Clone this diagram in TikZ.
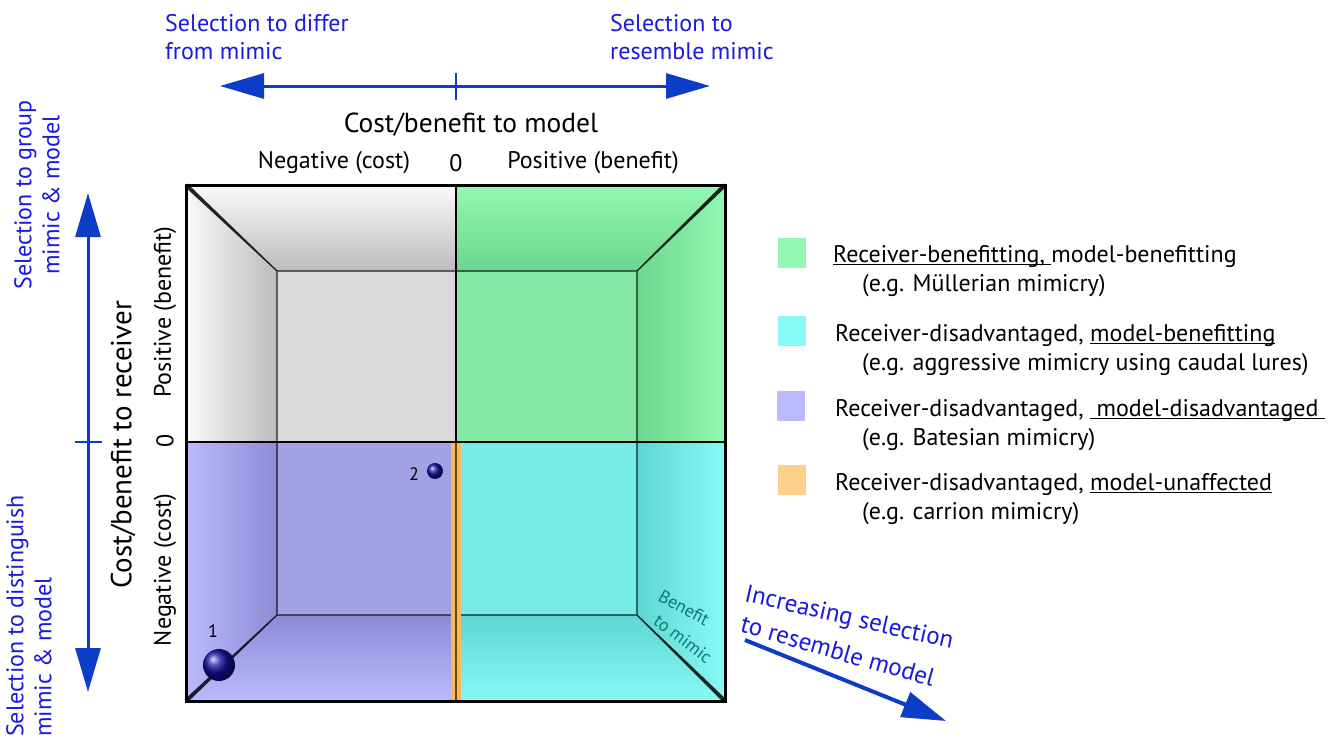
\documentclass[tikz,border=0pt]{standalone}
\usepackage{fontspec}
\setmainfont{PT Sans}
\usetikzlibrary{arrows.meta,calc}
\definecolor{selblue}{RGB}{25,25,225}
\definecolor{arrblue}{RGB}{12,60,200}
\definecolor{ballblue}{RGB}{25,15,160}
\definecolor{tealtxt}{RGB}{20,120,118}
\definecolor{gL}{RGB}{250,250,250}\definecolor{gD}{RGB}{188,188,190}\definecolor{gB}{RGB}{217,217,217}
\definecolor{nL}{RGB}{147,248,179}\definecolor{nD}{RGB}{108,214,142}\definecolor{nB}{RGB}{134,232,165}
\definecolor{pL}{RGB}{188,186,252}\definecolor{pD}{RGB}{142,138,214}\definecolor{pB}{RGB}{164,160,228}
\definecolor{cL}{RGB}{136,250,246}\definecolor{cD}{RGB}{94,214,211}\definecolor{cB}{RGB}{119,235,230}
\definecolor{oL}{RGB}{253,208,140}\definecolor{oS}{RGB}{245,185,100}\definecolor{oD}{RGB}{110,70,0}
\newcommand\myul[1]{\setbox0\hbox{#1}\rlap{\rule[-3pt]{\wd0}{0.9pt}}\box0}
\newcommand\drawroom[3]{%
  \fill[#3] (iTL) rectangle (iBR);
  \shade[top color=#1, bottom color=#2] (oTL) -- (oTR) -- (iTR) -- (iTL) -- cycle;
  \shade[top color=#2, bottom color=#1] (iBL) -- (iBR) -- (oBR) -- (oBL) -- cycle;
  \shade[left color=#1, right color=#2] (oTL) -- (iTL) -- (iBL) -- (oBL) -- cycle;
  \shade[left color=#2, right color=#1] (iTR) -- (oTR) -- (oBR) -- (iBR) -- cycle;
}
\newcommand\taper[2]{%
  \fill[black, opacity=0.85] ($(#1)!2pt!90:(#2)$) -- ($(#2)!0.6pt!-90:(#1)$) -- ($(#2)!0.6pt!90:(#1)$) -- ($(#1)!2pt!-90:(#2)$) -- cycle;
}
\tikzset{
  blue txt/.style={text=selblue, font=\fontsize{24}{28}\selectfont, inner sep=0pt},
  axis txt/.style={text=black, font=\fontsize{27.5}{30}\selectfont, inner sep=0pt},
  tick txt/.style={text=black, font=\fontsize{24}{28}\selectfont, inner sep=0pt},
  leg txt/.style={text=black, font=\fontsize{24}{28}\selectfont, inner sep=0pt, anchor=base west},
  sel arrow/.style={draw=arrblue, line width=3pt, arrows={Triangle[length=44pt,width=25pt,fill=arrblue]-Triangle[length=44pt,width=25pt,fill=arrblue]}},
  swatch/.style={draw=none, minimum width=28pt, minimum height=30pt, inner sep=0pt},
  teal txt/.style={text=tealtxt, font=\fontsize{18}{20}\selectfont, inner sep=0pt},
}
\begin{document}
\begin{tikzpicture}[x=1pt,y=-1pt]
\useasboundingbox (0,0) rectangle (1344,737);
\fill[white] (0,0) rectangle (1344,737);
% room geometry
\coordinate (oTL) at (186,185); \coordinate (oTR) at (725,185);
\coordinate (oBL) at (186,701); \coordinate (oBR) at (725,701);
\coordinate (iTL) at (277,271); \coordinate (iTR) at (637,271);
\coordinate (iBL) at (277,615); \coordinate (iBR) at (637,615);
\coordinate (mT) at (456,185); \coordinate (mB) at (456,701);
\coordinate (mL) at (186,442); \coordinate (mR) at (725,442);
% quadrants
\begin{scope}\clip (186,185) rectangle (456,442); \drawroom{gL}{gD}{gB}\end{scope}
\begin{scope}\clip (456,185) rectangle (725,442); \drawroom{nL}{nD}{nB}\end{scope}
\begin{scope}\clip (186,442) rectangle (456,701); \drawroom{pL}{pD}{pB}\end{scope}
\begin{scope}\clip (456,442) rectangle (725,701); \drawroom{cL}{cD}{cB}\end{scope}
% inner square and diagonals
\draw[black, opacity=0.55, line width=1.2pt] (iTL) rectangle (iBR);
\taper{oTL}{iTL}
\taper{oTR}{iTR}
\taper{oBL}{iBL}
\taper{oBR}{iBR}
% orange strip
\fill[oS] (451,442) rectangle (461,701);
\draw[oD, line width=2pt] (456,442) -- (mB);
% middle lines and frame
\draw[black, line width=2.5pt] (mT) -- (456,442);
\draw[black, line width=2.5pt] (mL) -- (mR);
\draw[black, line width=3pt] (oTL) rectangle (oBR);
% balls
\shade[ball color=ballblue] (219,665) circle (16pt);
\shade[ball color=ballblue] (435,471) circle (8pt);
\node[text=black, inner sep=0pt, font=\fontsize{18}{20}\selectfont] (n1) at (213,631) {1};
\node[text=black, inner sep=0pt, font=\fontsize{18}{20}\selectfont] (n2) at (414,474) {2};
% benefit to mimic
\node[teal txt, rotate=-28] (btm1) at (684,608) {Benefit};
\node[teal txt, rotate=-37] (btm2) at (683,639) {to mimic};
% top axis
\node[blue txt, anchor=west, align=left] (tl) at (165,37) {Selection to differ\\from mimic};
\node[blue txt, anchor=west, align=left] (tr) at (610,37) {Selection to\\resemble mimic};
\coordinate (ta) at (220,86); \coordinate (tb) at (710,86);
\draw[sel arrow] (ta) -- (tb);
\draw[arrblue, line width=2.5pt] (456,73) -- (456,100);
\node[axis txt] (cbm) at (471,125) {Cost/benefit to model};
\node[tick txt] (neg) at (334,163) {Negative (cost)};
\node[tick txt] (zero) at (456,163) {0};
\node[tick txt] (pos) at (593,163) {Positive (benefit)};
% left axis
\coordinate (la) at (88,193); \coordinate (lb) at (88,692);
\draw[sel arrow] (la) -- (lb);
\draw[arrblue, line width=2.5pt] (75,442) -- (102,442);
\node[axis txt, rotate=90, font=\fontsize{29}{32}\selectfont] (cbr) at (123,445) {Cost/benefit to receiver};
\node[tick txt, rotate=90] (lpos) at (165,312) {Positive (benefit)};
\node[tick txt, rotate=90] (lzero) at (165,441) {0};
\node[tick txt, rotate=90] (lneg) at (165,570) {Negative (cost)};
\node[blue txt, rotate=90, align=center] (lt) at (37,195) {Selection to group\\mimic \& model};
\node[blue txt, rotate=90, align=left, anchor=north west] (lbt) at (6,737) {Selection to distinguish\\mimic \& model};
% diagonal arrow
\node[blue txt, font=\fontsize{25}{28}\selectfont, rotate=-13] (inc1) at (849,619) {Increasing selection};
\node[blue txt, font=\fontsize{25}{28}\selectfont, rotate=-16] (inc2) at (838,651) {to resemble model};
\coordinate (da) at (745,640); \coordinate (db) at (946,721);
\draw[draw=arrblue, line width=4pt, -{Triangle[length=44pt,width=26pt,fill=arrblue]}] (da) -- (db);
% legend
\node[swatch, fill=nL, anchor=north west] (s1) at (778,238) {};
\node[swatch, fill=cL, anchor=north west] (s2) at (778,316) {};
\node[swatch, fill=pL, anchor=north west] (s3) at (777,391) {};
\node[swatch, fill=oL, anchor=north west] (s4) at (778,465) {};
\node[leg txt] (l1a) at (833,262) {\myul{Receiver-benefitting, }model-benefitting};
\node[leg txt] (l1b) at (862,291) {(e.g. Müllerian mimicry)};
\node[leg txt] (l2a) at (835,341) {Receiver-disadvantaged, \myul{model-benefitting}};
\node[leg txt] (l2b) at (862,370) {(e.g. aggressive mimicry using caudal lures)};
\node[leg txt] (l3a) at (835,416) {Receiver-disadvantaged, \myul{ model-disadvantaged }};
\node[leg txt] (l3b) at (862,445) {(e.g. Batesian mimicry)};
\node[leg txt] (l4a) at (835,490) {Receiver-disadvantaged, \myul{model-unaffected}};
\node[leg txt] (l4b) at (862,519) {(e.g. carrion mimicry)};
\end{tikzpicture}
\end{document}
